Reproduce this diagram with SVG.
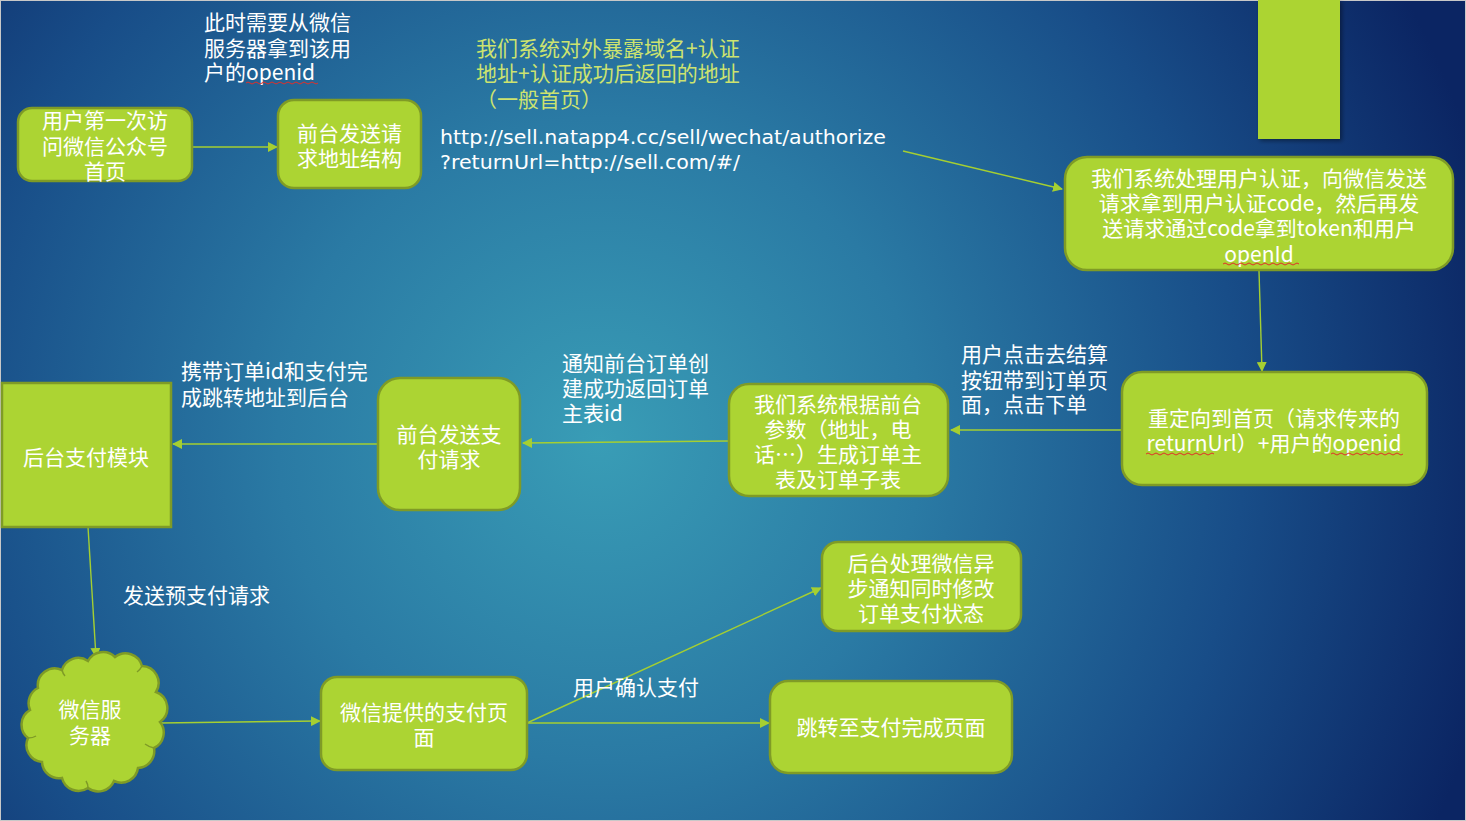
<svg xmlns="http://www.w3.org/2000/svg" width="1466" height="821" viewBox="0 0 1466 821">
<defs>
<radialGradient id="bg" gradientUnits="userSpaceOnUse" cx="600" cy="440" r="920">
<stop offset="0" stop-color="#399db6"/>
<stop offset="0.35" stop-color="#2a7aa4"/>
<stop offset="0.7" stop-color="#184d88"/>
<stop offset="1" stop-color="#0b2563"/>
</radialGradient>
<marker id="ah" viewBox="0 0 10 10" refX="9" refY="5" markerWidth="10" markerHeight="10" markerUnits="userSpaceOnUse" orient="auto">
<path d="M0,0 L10,5 L0,10 z" fill="#a5cf31"/>
</marker>
<filter id="sh" x="-10%" y="-10%" width="130%" height="130%">
<feDropShadow dx="2" dy="2" stdDeviation="2" flood-color="#000" flood-opacity="0.4"/>
</filter>
</defs>
<style>
.n{fill:#acd433;stroke:#7f9b26;stroke-width:2.5}
.t{font-family:"Noto Sans CJK SC","Noto Sans",sans-serif;font-size:21px;fill:#ffffff;text-anchor:middle}
.l{font-family:"Noto Sans CJK SC","Noto Sans",sans-serif;font-size:21px;fill:#ffffff}
.y{font-family:"Noto Sans CJK SC","Noto Sans",sans-serif;font-size:21px;fill:#cde36f}
.u{font-family:"DejaVu Sans","Noto Sans",sans-serif;font-size:20px;fill:#ffffff}
.c{fill:none;stroke:#a5cf31;stroke-width:1.4;marker-end:url(#ah)}
.w{fill:none;stroke:#e0302a;stroke-width:1}
</style>
<rect x="0" y="0" width="1466" height="821" fill="url(#bg)"/>
<rect x="0.5" y="0.5" width="1465" height="820" fill="none" stroke="#c8c8c8" stroke-width="1"/>

<g id="connectors">
<line class="c" x1="192" y1="147" x2="277" y2="147"/>
<line class="c" x1="903" y1="151" x2="1062" y2="189"/>
<line class="c" x1="1259" y1="271" x2="1262" y2="371"/>
<line class="c" x1="1122" y1="430" x2="951" y2="430"/>
<line class="c" x1="729" y1="441" x2="523" y2="443"/>
<line class="c" x1="378" y1="444" x2="173" y2="444"/>
<line class="c" x1="88" y1="527" x2="96" y2="657"/>
<line class="c" x1="160" y1="723" x2="320" y2="721"/>
<line class="c" x1="527" y1="723" x2="821" y2="588"/>
<line class="c" x1="527" y1="723" x2="769" y2="723"/>
</g>

<g id="lbl-openid">
<text class="l" x="204" y="30">此时需要从微信</text>
<text class="l" x="204" y="56">服务器拿到该用</text>
<text class="l" x="204" y="80">户的openid</text>
<path class="w" d="M246,83 q2,-2 4,0 t4,0 t4,0 t4,0 t4,0 t4,0 t4,0 t4,0 t4,0 t4,0 t4,0 t4,0 t4,0 t4,0 t4,0 t4,0 t4,0 t4,0"/>
</g>
<g id="lbl-domain">
<text class="y" x="476" y="56">我们系统对外暴露域名+认证</text>
<text class="y" x="476" y="81">地址+认证成功后返回的地址</text>
<text class="y" x="476" y="107">（一般首页）</text>
</g>
<g id="lbl-url">
<text class="u" x="440" y="144" textLength="446" lengthAdjust="spacingAndGlyphs">http://sell.natapp4.cc/sell/wechat/authorize</text>
<text class="u" x="440" y="169" textLength="300" lengthAdjust="spacingAndGlyphs">?returnUrl=http://sell.com/#/</text>
</g>
<g id="lbl-checkout">
<text class="l" x="961" y="362">用户点击去结算</text>
<text class="l" x="961" y="388">按钮带到订单页</text>
<text class="l" x="961" y="412">面，点击下单</text>
</g>
<g id="lbl-notify">
<text class="l" x="562" y="371">通知前台订单创</text>
<text class="l" x="562" y="396">建成功返回订单</text>
<text class="l" x="562" y="421">主表id</text>
</g>
<g id="lbl-carry">
<text class="l" x="181" y="379">携带订单id和支付完</text>
<text class="l" x="181" y="405">成跳转地址到后台</text>
</g>
<g id="lbl-prepay"><text class="l" x="123" y="603">发送预支付请求</text></g>
<g id="lbl-confirm"><text class="l" x="573" y="695">用户确认支付</text></g>

<g id="n-first-visit">
<rect class="n" x="18" y="108" width="174" height="73" rx="14"/>
<text class="t" x="105" y="128">用户第一次访</text>
<text class="t" x="105" y="154">问微信公众号</text>
<text class="t" x="105" y="179">首页</text>
</g>
<g id="n-send-url">
<rect class="n" x="278" y="100" width="143" height="88" rx="16"/>
<text class="t" x="349.5" y="141">前台发送请</text>
<text class="t" x="349.5" y="166">求地址结构</text>
</g>
<g id="n-topright">
<rect x="1258" y="0" width="82" height="139" fill="#acd433" filter="url(#sh)"/>
</g>
<g id="n-auth">
<rect class="n" x="1065" y="157" width="388" height="113" rx="22"/>
<text class="t" x="1259" y="186">我们系统处理用户认证，向微信发送</text>
<text class="t" x="1259" y="211">请求拿到用户认证code，然后再发</text>
<text class="t" x="1259" y="236">送请求通过code拿到token和用户</text>
<text class="t" x="1259" y="262">openId</text>
<path class="w" d="M1223,264 q2,-2 4,0 t4,0 t4,0 t4,0 t4,0 t4,0 t4,0 t4,0 t4,0 t4,0 t4,0 t4,0 t4,0 t4,0 t4,0 t4,0 t4,0 t4,0 t4,0"/>
</g>
<g id="n-redirect">
<rect class="n" x="1122" y="372" width="305" height="113" rx="20"/>
<text class="t" x="1274" y="426">重定向到首页（请求传来的</text>
<text class="t" x="1274" y="451">returnUrl）+用户的openid</text>
<path class="w" d="M1146,454 q2,-2 4,0 t4,0 t4,0 t4,0 t4,0 t4,0 t4,0 t4,0 t4,0 t4,0 t4,0 t4,0 t4,0 t4,0 t4,0 t4,0 t4,0"/>
<path class="w" d="M1331,454 q2,-2 4,0 t4,0 t4,0 t4,0 t4,0 t4,0 t4,0 t4,0 t4,0 t4,0 t4,0 t4,0 t4,0 t4,0 t4,0 t4,0 t4,0 t4,0"/>
</g>
<g id="n-create-order">
<rect class="n" x="729" y="384" width="219" height="112" rx="20"/>
<text class="t" x="838" y="412">我们系统根据前台</text>
<text class="t" x="838" y="437">参数（地址，电</text>
<text class="t" x="838" y="462">话…）生成订单主</text>
<text class="t" x="838" y="487">表及订单子表</text>
</g>
<g id="n-pay-request">
<rect class="n" x="378" y="378" width="142" height="132" rx="22"/>
<text class="t" x="449" y="442">前台发送支</text>
<text class="t" x="449" y="467">付请求</text>
</g>
<g id="n-pay-module">
<rect class="n" x="2" y="383" width="169" height="144"/>
<text class="t" x="86" y="465">后台支付模块</text>
</g>
<g id="n-wechat-server">
<path class="n" d="M38,688 A17,17 0 0 1 62,670 A17,17 0 0 1 88,661 A17,17 0 0 1 115,657 A17,17 0 0 1 142,666 A17,17 0 0 1 156,692 A17,17 0 0 1 160,722 A17,17 0 0 1 154,748 A17,17 0 0 1 138,768 A17,17 0 0 1 114,781 A17,17 0 0 1 88,788 A17,17 0 0 1 62,778 A17,17 0 0 1 42,762 A17,17 0 0 1 28,738 A17,17 0 0 1 30,710 A17,17 0 0 1 38,688 z"/>
<path d="M62,670 q1,4 3,6 M142,666 q-2,4 -5,6 M154,748 q-5,-1 -9,-4 M88,788 q0,-4 -2,-7 M28,738 q5,0 8,-2" fill="none" stroke="#7f9b26" stroke-width="1.5"/>
<text class="t" x="90" y="717">微信服</text>
<text class="t" x="90" y="743">务器</text>
</g>
<g id="n-wechat-pay-page">
<rect class="n" x="321" y="677" width="206" height="93" rx="16"/>
<text class="t" x="424" y="720">微信提供的支付页</text>
<text class="t" x="424" y="745">面</text>
</g>
<g id="n-async-notify">
<rect class="n" x="822" y="542" width="199" height="89" rx="16"/>
<text class="t" x="921" y="571">后台处理微信异</text>
<text class="t" x="921" y="596">步通知同时修改</text>
<text class="t" x="921" y="621">订单支付状态</text>
</g>
<g id="n-pay-done">
<rect class="n" x="770" y="681" width="242" height="92" rx="18"/>
<text class="t" x="891" y="735">跳转至支付完成页面</text>
</g>
</svg>
